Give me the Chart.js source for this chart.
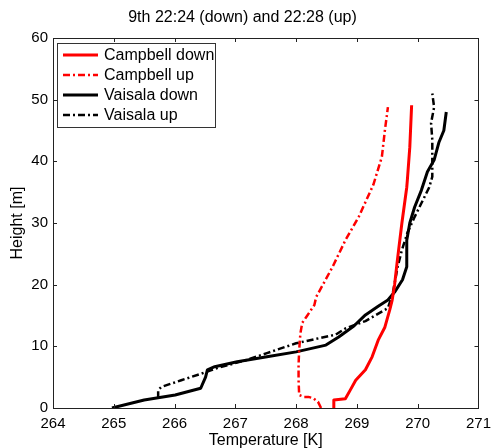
<!DOCTYPE html>
<html>
<head>
<meta charset="utf-8">
<script src="https://cdn.jsdelivr.net/npm/chart.js@4/dist/chart.umd.min.js"></script>
<style>
html,body{margin:0;padding:0;background:#fff;}
#wrap{width:498px;height:448px;}
</style>
</head>
<body>
<div id="wrap"><canvas id="c" width="498" height="448"></canvas></div>
<script>
// ---- data ----
const titleText = "9th 22:24 (down) and 22:28 (up)";
const xTicks = [264, 265, 266, 267, 268, 269, 270, 271];
const yTicks = [0, 10, 20, 30, 40, 50, 60];

const campbellDownT = [268.62, 268.62, 268.81, 268.89, 268.98, 269.14, 269.25, 269.35, 269.46, 269.54, 269.58, 269.62, 269.66, 269.74, 269.82, 269.83, 269.87, 269.90];
const campbellDownH = [0, 1.3, 1.5, 2.9, 4.5, 6.2, 8.3, 11.0, 13.1, 15.9, 17.5, 20.0, 23.5, 30.0, 35.8, 37.0, 42.3, 49.1];

const campbellUpT = [268.41, 268.36, 268.28, 268.20, 268.13, 268.05, 268.04, 268.04, 268.05, 268.07, 268.10, 268.17, 268.30, 268.33, 268.60, 268.81, 269.03, 269.27, 269.41, 269.46, 269.51];
const campbellUpH = [0, 1.0, 1.6, 1.8, 1.8, 2.1, 4.5, 7.0, 9.4, 12.1, 13.8, 14.8, 16.7, 18.0, 22.9, 27.2, 31.0, 36.2, 40.7, 45.0, 48.8];

const vaisalaDownT = [264.97, 265.50, 266.01, 266.43, 266.51, 266.54, 266.66, 267.03, 267.52, 268.00, 268.49, 268.70, 268.95, 269.14, 269.35, 269.51, 269.62, 269.75, 269.82, 269.82, 269.87, 269.95, 270.06, 270.16, 270.27, 270.35, 270.43, 270.47];
const vaisalaDownH = [0, 1.3, 2.1, 3.2, 5.0, 6.2, 6.7, 7.5, 8.3, 9.1, 10.2, 11.5, 13.3, 15.1, 16.5, 17.5, 18.8, 20.8, 22.9, 27.2, 30.0, 32.6, 35.3, 38.3, 40.2, 43.1, 45.0, 48.0];

const vaisalaUpT = [265.73, 265.73, 265.78, 266.11, 266.51, 266.71, 267.19, 267.52, 268.00, 268.65, 268.81, 269.14, 269.51, 269.59, 269.67, 269.74, 269.83, 269.95, 270.06, 270.19, 270.24, 270.24, 270.24, 270.22, 270.27, 270.24];
const vaisalaUpH = [1.6, 2.9, 3.4, 4.5, 5.8, 6.5, 7.8, 8.9, 10.5, 11.9, 12.9, 14.1, 16.2, 18.6, 22.9, 25.6, 28.4, 31.0, 33.2, 35.8, 37.5, 40.7, 43.5, 46.2, 48.8, 51.0];

const seriesNames = ["Campbell down", "Campbell up", "Vaisala down", "Vaisala up"];

function pts(T, H) { return T.map((t, i) => ({x: t, y: H[i]})); }

const FONT = "'Liberation Sans', Arial, Helvetica, sans-serif";
const DASHDOT = [7, 3, 2, 3];

const datasets = [
  {label: seriesNames[0], data: pts(campbellDownT, campbellDownH), borderColor: '#ff0000', borderWidth: 3, borderDash: []},
  {label: seriesNames[1], data: pts(campbellUpT, campbellUpH), borderColor: '#ff0000', borderWidth: 2.5, borderDash: DASHDOT},
  {label: seriesNames[2], data: pts(vaisalaDownT, vaisalaDownH), borderColor: '#000000', borderWidth: 3, borderDash: []},
  {label: seriesNames[3], data: pts(vaisalaUpT, vaisalaUpH), borderColor: '#000000', borderWidth: 2.5, borderDash: DASHDOT}
].map(d => Object.assign(d, {showLine: true, pointRadius: 0, tension: 0, fill: false, borderJoinStyle: 'round', borderCapStyle: 'butt'}));

// frame, inward ticks and legend box
const framePlugin = {
  id: 'frame',
  afterDatasetsDraw(chart) {
    const {ctx, chartArea: a, scales} = chart;
    ctx.save();
    ctx.strokeStyle = '#222';
    ctx.lineWidth = 1;
    ctx.setLineDash([]);
    ctx.strokeRect(Math.round(a.left) + 0.5, Math.round(a.top) + 0.5, Math.round(a.right - a.left), Math.round(a.bottom - a.top));
    const tl = 4;
    ctx.beginPath();
    xTicks.forEach(v => {
      const x = Math.round(scales.x.getPixelForValue(v)) + 0.5;
      ctx.moveTo(x, a.bottom); ctx.lineTo(x, a.bottom - tl);
      ctx.moveTo(x, a.top); ctx.lineTo(x, a.top + tl);
    });
    yTicks.forEach(v => {
      const y = Math.round(scales.y.getPixelForValue(v)) + 0.5;
      ctx.moveTo(a.left, y); ctx.lineTo(a.left + tl, y);
      ctx.moveTo(a.right, y); ctx.lineTo(a.right - tl, y);
    });
    ctx.stroke();

    // legend
    const bx = a.left + 4, by = a.top + 5, bw = 158, bh = 84;
    ctx.fillStyle = '#fff';
    ctx.fillRect(bx, by, bw, bh);
    ctx.strokeStyle = '#333';
    ctx.strokeRect(bx + 0.5, by + 0.5, bw, bh);
    ctx.font = '16px ' + FONT;
    ctx.textBaseline = 'middle';
    ctx.textAlign = 'left';
    chart.data.datasets.forEach((d, i) => {
      const y = by + 12 + i * 20;
      ctx.strokeStyle = d.borderColor;
      ctx.lineWidth = d.borderWidth;
      ctx.setLineDash(d.borderDash || []);
      ctx.beginPath();
      ctx.moveTo(bx + 6, y); ctx.lineTo(bx + 41, y);
      ctx.stroke();
      ctx.setLineDash([]);
      ctx.fillStyle = '#000';
      ctx.fillText(d.label, bx + 47, y + 1);
    });
    ctx.restore();
  }
};

new Chart(document.getElementById('c'), {
  type: 'scatter',
  data: {datasets},
  options: {
    responsive: false,
    animation: false,
    layout: {padding: {left: 0, right: 13, top: 0, bottom: 0}},
    plugins: {
      legend: {display: false},
      tooltip: {enabled: false},
      title: {
        display: true,
        text: titleText,
        color: '#000',
        font: {family: FONT, size: 16, weight: 'normal', lineHeight: 1.2},
        padding: {top: 8.4, bottom: 10.4}
      }
    },
    scales: {
      x: {
        type: 'linear',
        min: 264, max: 271,
        afterFit(s) { s.height = 40; },
        afterBuildTicks(s) { s.ticks = xTicks.map(v => ({value: v})); },
        grid: {display: false, drawTicks: false},
        border: {display: false},
        ticks: {color: '#000', font: {family: FONT, size: 15}, padding: 7, maxRotation: 0, autoSkip: false},
        title: {display: true, text: 'Temperature [K]', color: '#000', font: {family: FONT, size: 16, lineHeight: 1.2}, padding: {top: 0, bottom: -2}}
      },
      y: {
        type: 'linear',
        min: 0, max: 60,
        afterFit(s) { s.width = 53; },
        afterBuildTicks(s) { s.ticks = yTicks.map(v => ({value: v})); },
        grid: {display: false, drawTicks: false},
        border: {display: false},
        ticks: {color: '#000', font: {family: FONT, size: 15}, padding: 5, autoSkip: false},
        title: {display: true, text: 'Height [m]', color: '#000', font: {family: FONT, size: 16, lineHeight: 1.2}, padding: {top: 8, bottom: 0}}
      }
    }
  },
  plugins: [framePlugin]
});
</script>
</body>
</html>
